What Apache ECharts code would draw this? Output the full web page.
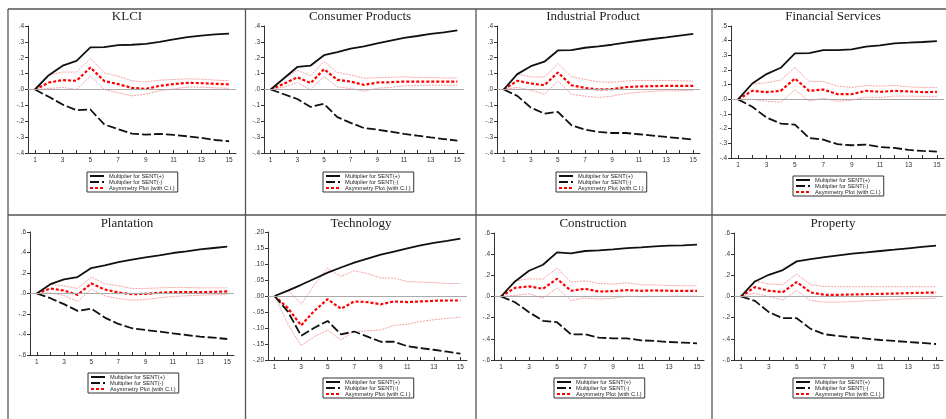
<!DOCTYPE html>
<html>
<head>
<meta charset="utf-8">
<script src="https://cdn.jsdelivr.net/npm/echarts@6/dist/echarts.min.js"></script>
<style>
html,body{margin:0;padding:0;background:#fff;}
#chart{width:946px;height:419px;}
</style>
</head>
<body>
<div id="chart"></div>
<script>
// ---------- data ----------
const steps = ['1','2','3','4','5','6','7','8','9','10','11','12','13','14','15'];
const titles = ['KLCI','Consumer Products','Industrial Product','Financial Services','Plantation','Technology','Construction','Property'];
const nameUp = 'Multiplier for SENT(+)';
const nameDown = 'Multiplier for SENT(-)';
const nameAsym = 'Asymmetry Plot (with C.I.)';

// KLCI
const klciPos   = [0,0.09,0.15,0.18,0.265,0.267,0.28,0.282,0.288,0.30,0.316,0.33,0.34,0.347,0.352];
const klciNeg   = [0,-0.046,-0.095,-0.13,-0.126,-0.22,-0.25,-0.278,-0.284,-0.28,-0.286,-0.295,-0.305,-0.318,-0.326];
const klciAsym  = [0,0.044,0.059,0.055,0.139,0.053,0.034,0.01,0.004,0.023,0.034,0.042,0.04,0.036,0.032];
const klciUp    = [0,0.09,0.11,0.11,0.196,0.105,0.084,0.055,0.048,0.059,0.063,0.067,0.065,0.059,0.055];
const klciLo    = [0,0.006,0.013,0,0.084,0,-0.021,-0.04,-0.03,-0.008,0.004,0.015,0.015,0.01,0.008];
// Consumer Products
const consPos   = [0,0.071,0.142,0.151,0.216,0.235,0.258,0.272,0.291,0.308,0.325,0.337,0.35,0.36,0.373];
const consNeg   = [0,-0.03,-0.06,-0.11,-0.09,-0.174,-0.21,-0.243,-0.253,-0.266,-0.279,-0.291,-0.302,-0.312,-0.322];
const consAsym  = [0,0.036,0.077,0.04,0.128,0.061,0.05,0.029,0.044,0.046,0.05,0.05,0.05,0.05,0.05];
const consUp    = [0,0.071,0.12,0.086,0.176,0.107,0.092,0.071,0.075,0.077,0.08,0.075,0.075,0.073,0.073];
const consLo    = [0,0.015,0.044,-0.002,0.082,0.017,0.006,-0.01,0.008,0.013,0.023,0.025,0.027,0.027,0.027];
// Industrial Product
const indPos    = [0,0.097,0.147,0.175,0.246,0.248,0.263,0.272,0.282,0.295,0.307,0.318,0.328,0.339,0.35];
const indNeg    = [0,-0.04,-0.114,-0.152,-0.141,-0.225,-0.253,-0.267,-0.274,-0.274,-0.282,-0.29,-0.299,-0.307,-0.316];
const indAsym   = [0,0.055,0.038,0.027,0.107,0.027,0.01,0,0.002,0.015,0.019,0.021,0.023,0.023,0.023];
const indUp     = [0,0.097,0.08,0.078,0.164,0.08,0.063,0.048,0.046,0.053,0.057,0.057,0.057,0.055,0.053];
const indLo     = [0,0.013,-0.004,-0.03,0.053,-0.03,-0.042,-0.05,-0.042,-0.025,-0.017,-0.011,-0.008,-0.008,-0.006];
// Financial Services
const finPos    = [0,0.108,0.172,0.215,0.313,0.315,0.336,0.336,0.34,0.359,0.368,0.382,0.386,0.391,0.397];
const finNeg    = [0,-0.051,-0.124,-0.165,-0.172,-0.263,-0.275,-0.306,-0.313,-0.309,-0.325,-0.331,-0.345,-0.352,-0.356];
const finAsym   = [0,0.058,0.049,0.058,0.142,0.058,0.067,0.035,0.035,0.058,0.051,0.058,0.054,0.049,0.051];
const finUp     = [0,0.104,0.113,0.131,0.217,0.122,0.122,0.09,0.081,0.095,0.09,0.095,0.085,0.081,0.081];
const finLo     = [0,0,-0.013,-0.02,0.067,-0.013,0.008,-0.013,-0.006,0.015,0.013,0.022,0.022,0.02,0.02];
// Plantation
const plantPos  = [0,0.091,0.137,0.16,0.248,0.274,0.307,0.33,0.352,0.372,0.395,0.411,0.431,0.444,0.457];
const plantNeg  = [0,-0.046,-0.104,-0.17,-0.147,-0.235,-0.297,-0.339,-0.356,-0.372,-0.388,-0.405,-0.421,-0.431,-0.444];
const plantAsym = [0,0.049,0.029,-0.013,0.098,0.039,0.01,-0.007,-0.003,0.007,0.013,0.013,0.013,0.016,0.02];
const plantUp   = [0,0.091,0.075,0.049,0.16,0.095,0.075,0.049,0.049,0.055,0.059,0.059,0.055,0.055,0.055];
const plantLo   = [0,0.007,-0.02,-0.078,0.042,-0.023,-0.049,-0.065,-0.059,-0.042,-0.029,-0.023,-0.016,-0.013,-0.01];
// Technology
const techPos   = [0,0.017,0.035,0.054,0.073,0.089,0.104,0.117,0.129,0.139,0.149,0.158,0.166,0.172,0.179];
const techNeg   = [0,-0.049,-0.124,-0.099,-0.078,-0.12,-0.111,-0.127,-0.143,-0.143,-0.157,-0.163,-0.168,-0.174,-0.18];
const techAsym  = [0,-0.038,-0.092,-0.046,-0.01,-0.04,-0.017,-0.019,-0.026,-0.017,-0.019,-0.017,-0.015,-0.014,-0.014];
const techUp    = [0,0.019,-0.026,0.035,0.087,0.061,0.079,0.07,0.056,0.056,0.045,0.043,0.042,0.039,0.039];
const techLo    = [0,-0.088,-0.155,-0.127,-0.107,-0.137,-0.111,-0.109,-0.106,-0.092,-0.088,-0.08,-0.074,-0.07,-0.066];
// Construction
const consrPos  = [0,0.142,0.243,0.3,0.417,0.408,0.43,0.436,0.445,0.458,0.464,0.474,0.48,0.483,0.49];
const consrNeg  = [0,-0.054,-0.148,-0.23,-0.243,-0.357,-0.357,-0.389,-0.395,-0.395,-0.414,-0.42,-0.43,-0.436,-0.442];
const consrAsym = [0,0.082,0.095,0.073,0.167,0.054,0.073,0.047,0.051,0.06,0.054,0.057,0.054,0.054,0.054];
const consrUp   = [0,0.148,0.167,0.164,0.269,0.136,0.148,0.123,0.117,0.13,0.11,0.11,0.104,0.101,0.101];
const consrLo   = [0,0.01,0.025,-0.016,0.082,-0.038,-0.013,-0.025,-0.016,0.003,-0.003,0,0.003,0.003,0.003];
// Property
const propPos   = [0,0.142,0.205,0.25,0.332,0.354,0.373,0.389,0.405,0.417,0.43,0.442,0.455,0.468,0.48];
const propNeg   = [0,-0.041,-0.148,-0.205,-0.205,-0.306,-0.357,-0.373,-0.385,-0.398,-0.411,-0.42,-0.43,-0.439,-0.449];
const propAsym  = [0,0.088,0.054,0.041,0.136,0.038,0.016,0.016,0.019,0.022,0.025,0.028,0.032,0.035,0.038];
const propUp    = [0,0.148,0.117,0.111,0.212,0.111,0.095,0.092,0.092,0.092,0.092,0.092,0.092,0.092,0.092];
const propLo    = [0,0.032,0,-0.032,0.057,-0.038,-0.054,-0.054,-0.047,-0.041,-0.035,-0.028,-0.022,-0.019,-0.016];

// y-axis scales per panel [min, max, interval, decimals]
const yScales = [
  [-0.4,0.4,0.1,1],[-0.4,0.4,0.1,1],[-0.4,0.4,0.1,1],[-0.4,0.5,0.1,1],
  [-0.6,0.6,0.2,1],[-0.2,0.2,0.05,2],[-0.6,0.6,0.2,1],[-0.6,0.6,0.2,1]
];

// ---------- layout ----------
const seriesData = [
  [klciPos,klciNeg,klciAsym,klciUp,klciLo],
  [consPos,consNeg,consAsym,consUp,consLo],
  [indPos,indNeg,indAsym,indUp,indLo],
  [finPos,finNeg,finAsym,finUp,finLo],
  [plantPos,plantNeg,plantAsym,plantUp,plantLo],
  [techPos,techNeg,techAsym,techUp,techLo],
  [consrPos,consrNeg,consrAsym,consrUp,consrLo],
  [propPos,propNeg,propAsym,propUp,propLo]
];
const layout = [
  {grid:[28,26,208,127],  legend:[87,172],  title:[127,17]},
  {grid:[264,26,200,127], legend:[323,172], title:[360,17]},
  {grid:[497,26,203,127], legend:[556,172], title:[593,17]},
  {grid:[731,26,213,132], legend:[793,176], title:[833,17]},
  {grid:[30,232,204,123], legend:[88,373],  title:[127,223.5]},
  {grid:[268,232,199,128],legend:[323,378], title:[361,223.5]},
  {grid:[494,233,210,127],legend:[554,378], title:[593,223.5]},
  {grid:[734,233,209,127],legend:[793,378], title:[833,223.5]}
];

function fmt(d){
  return function(v){
    if (Math.abs(v) < 1e-9) v = 0;
    return v.toFixed(d).replace(/^(-?)0\./,'$1.');
  };
}

const grids=[], xAxes=[], yAxes=[], series=[], legends=[], graphics=[];
const axisColor = '#333';
const lblFont = {fontSize:6.5, color:'#333', fontFamily:'Liberation Sans, Arial, sans-serif'};

layout.forEach((L,i)=>{
  const [gl,gt,gw,gh] = L.grid;
  grids.push({left:gl, top:gt, width:gw, height:gh, containLabel:false, outerBoundsMode:'none'});
  xAxes.push({
    type:'category', gridIndex:i, data:steps, boundaryGap:true,
    axisLine:{show:true, onZero:false, lineStyle:{color:axisColor, width:1}},
    axisTick:{show:true, inside:true, length:3, alignWithLabel:true, interval:0, lineStyle:{color:axisColor}},
    axisLabel:Object.assign({interval:1, margin:4}, lblFont),
    splitLine:{show:false}
  });
  const ys = yScales[i];
  yAxes.push({
    type:'value', gridIndex:i, min:ys[0], max:ys[1], interval:ys[2],
    axisLine:{show:true, lineStyle:{color:axisColor, width:1}},
    axisTick:{show:true, length:3, lineStyle:{color:axisColor}},
    axisLabel:Object.assign({formatter:fmt(ys[3]), margin:4}, lblFont),
    splitLine:{show:false}
  });
  const d = seriesData[i];
  const base = {type:'line', xAxisIndex:i, yAxisIndex:i, symbol:'none', silent:true, animation:false};
  series.push(Object.assign({}, base, {
    name:'CI lower', data:d[4], lineStyle:{color:'#f5a3a3', width:1, type:[2,1]},
    markLine:{silent:true, symbol:['none','none'], label:{show:false},
      lineStyle:{color:'#aaaaaa', width:1, type:'solid'}, data:[{yAxis:0}], animation:false}
  }));
  series.push(Object.assign({}, base, {name:'CI upper', data:d[3], lineStyle:{color:'#f5a3a3', width:1, type:[2,1]}}));
  series.push(Object.assign({}, base, {name:nameAsym, data:d[2], itemStyle:{color:'#ff0000'}, lineStyle:{color:'#ff0000', width:2.2, type:[3,2]}}));
  series.push(Object.assign({}, base, {name:nameUp, data:d[0], itemStyle:{color:'#111'}, lineStyle:{color:'#111', width:1.8, type:'solid'}}));
  series.push(Object.assign({}, base, {name:nameDown, data:d[1], itemStyle:{color:'#111'}, lineStyle:{color:'#111', width:1.8, type:[9,3]}}));
  legends.push({
    orient:'vertical', left:L.legend[0], top:L.legend[1],
    data:[nameUp, nameDown, nameAsym], selectedMode:false,
    itemWidth:14, itemHeight:5, itemGap:0, padding:[1,3,1,2],
    itemStyle:{opacity:0},
    borderColor:'#333', borderWidth:1, backgroundColor:'#fff',
    textStyle:{fontSize:5.7, color:'#222', fontFamily:'Liberation Sans, Arial, sans-serif'}
  });
  graphics.push({
    type:'text', x:L.title[0], y:L.title[1], silent:true,
    style:{text:titles[i], textAlign:'center', textVerticalAlign:'middle',
      font:'13px "Liberation Serif", "Times New Roman", serif', fill:'#222'}
  });
});

// panel frame lines
const frameColor = '#555';
[[8,9,946,9],[8,215,946,215],[8,9,8,419],[245.5,9,245.5,419],[476,9,476,419],[712,9,712,419]].forEach(s=>{
  graphics.push({type:'line', silent:true, shape:{x1:s[0],y1:s[1],x2:s[2],y2:s[3]}, style:{stroke:frameColor, lineWidth:1.3}});
});

const chart = echarts.init(document.getElementById('chart'), null, {renderer:'canvas'});
chart.setOption({
  animation:false,
  backgroundColor:'#fff',
  grid:grids, xAxis:xAxes, yAxis:yAxes, series:series, legend:legends, graphic:graphics
});
</script>
</body>
</html>
